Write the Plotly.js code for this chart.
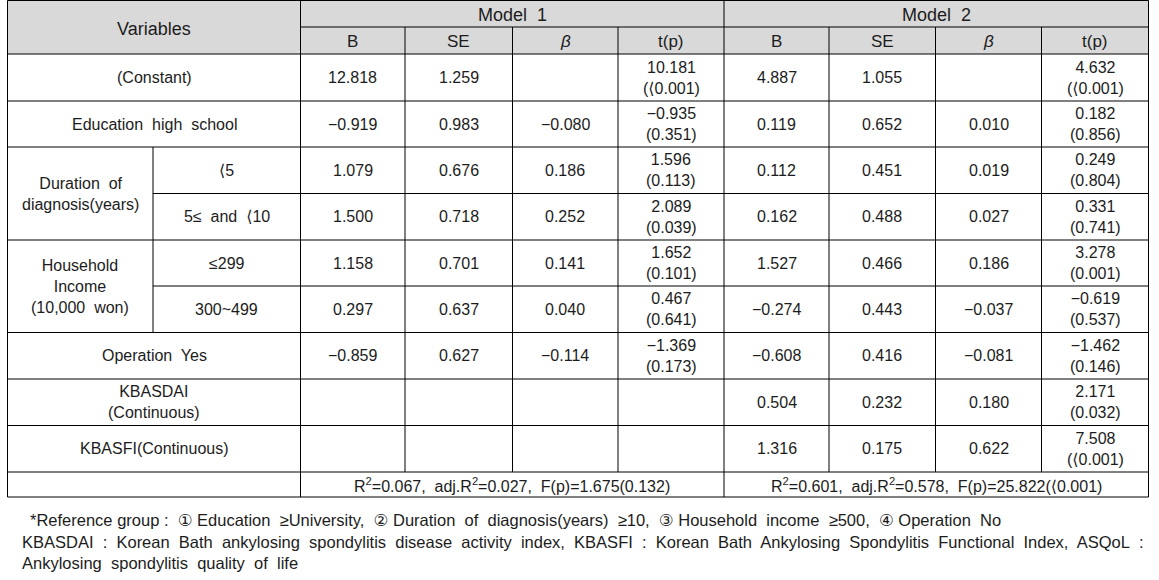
<!DOCTYPE html>
<html>
<head>
<meta charset="utf-8">
<script src="https://cdn.plot.ly/plotly-3.0.1.min.js"></script>
<style>
  html, body { margin: 0; padding: 0; background: #fff; }
  #tableDiv { width: 1159px; height: 580px; }
</style>
</head>
<body>
<div id="tableDiv"></div>
<script>
// table content
var LT = "\u27e8"; // angle bracket used as "less than" in the source table
var varLabels = ["(Constant)", "Education\u00a0 high\u00a0 school", null, null, null, null,
  "Operation\u00a0 Yes", "KBASDAI<br>(Continuous)", "KBASFI(Continuous)"];
var subLabels = [null, null, LT + "5", "5\u2264\u00a0 and\u00a0 " + LT + "10", "\u2264299", "300~499", null, null, null];
var groupLabels = ["Duration\u00a0 of<br>diagnosis(years)", "Household<br>Income<br>(10,000\u00a0 won)"];
var groupStart = [2, 4];

var subHeaders = ["B", "SE", "<i>\u03b2</i>", "t(p)"];
var modelNames = ["Model\u00a0 1", "Model\u00a0 2"];

var m1B = ["12.818", "\u22120.919", "1.079", "1.500", "1.158", "0.297", "\u22120.859", "", ""];
var m1SE = ["1.259", "0.983", "0.676", "0.718", "0.701", "0.637", "0.627", "", ""];
var m1Beta = ["", "\u22120.080", "0.186", "0.252", "0.141", "0.040", "\u22120.114", "", ""];
var m1T = ["10.181", "\u22120.935", "1.596", "2.089", "1.652", "0.467", "\u22121.369", "", ""];
var m1P = [LT + "0.001", "0.351", "0.113", "0.039", "0.101", "0.641", "0.173", "", ""];

var m2B = ["4.887", "0.119", "0.112", "0.162", "1.527", "\u22120.274", "\u22120.608", "0.504", "1.316"];
var m2SE = ["1.055", "0.652", "0.451", "0.488", "0.466", "0.443", "0.416", "0.232", "0.175"];
var m2Beta = ["", "0.010", "0.019", "0.027", "0.186", "\u22120.037", "\u22120.081", "0.180", "0.622"];
var m2T = ["4.632", "0.182", "0.249", "0.331", "3.278", "\u22120.619", "\u22121.462", "2.171", "7.508"];
var m2P = [LT + "0.001", "0.856", "0.804", "0.741", "0.001", "0.537", "0.146", "0.032", LT + "0.001"];

var fitStats = [
  "R<sup>2</sup>=0.067,\u00a0 adj.R<sup>2</sup>=0.027,\u00a0 F(p)=1.675(0.132)",
  "R<sup>2</sup>=0.601,\u00a0 adj.R<sup>2</sup>=0.578,\u00a0 F(p)=25.822(" + LT + "0.001)"
];

var footnotes = [
  "*Reference group\u00a0:\u00a0 \u2460 Education\u00a0 \u2265University,\u00a0 \u2461 Duration\u00a0 of\u00a0 diagnosis(years)\u00a0 \u226510,\u00a0 \u2462 Household\u00a0 income\u00a0 \u2265500,\u00a0 \u2463 Operation\u00a0 No",
  "KBASDAI\u00a0 :\u00a0 Korean\u00a0 Bath\u00a0 ankylosing\u00a0 spondylitis\u00a0 disease\u00a0 activity\u00a0 index,\u00a0 KBASFI\u00a0 :\u00a0 Korean\u00a0 Bath\u00a0 Ankylosing\u00a0 Spondylitis\u00a0 Functional\u00a0 Index,\u00a0 ASQoL\u00a0 :",
  "Ankylosing\u00a0 spondylitis\u00a0 quality\u00a0 of\u00a0 life"
];

// grid geometry (pixels, y grows downward)
var colEdges = [7.5, 153, 300.5, 405, 512.5, 618, 724, 829, 935.5, 1041.5, 1148.5];
var headEdges = [0.5, 27, 54];
var rowEdges = [54, 101, 147, 193.5, 240, 286, 332.5, 379, 425.5, 472, 497];
var footX = [28, 20, 20];
var footY = [520, 542, 563];

var textColor = "#1c1c1c";
var family = "Liberation Sans, Arial, DejaVu Sans, sans-serif";
var font = { family: family, size: 16, color: textColor };
var topFont = { family: family, size: 18, color: textColor };
var subFont = { family: family, size: 17, color: textColor };
var footFont = { family: family, size: 16.5, color: textColor };

function mid(a, b) { return (a + b) / 2; }

var annotations = [];
function addText(x, y, text, f) {
  annotations.push({
    x: x, y: y, xref: "x", yref: "y", text: text, showarrow: false,
    xanchor: "center", yanchor: "middle", align: "center", font: f || font
  });
}

// header
addText(mid(colEdges[0], colEdges[2]), mid(headEdges[0], headEdges[2]) + 2, "Variables", topFont);
modelNames.forEach(function (m, k) {
  addText(mid(colEdges[2 + 4 * k], colEdges[6 + 4 * k]), mid(headEdges[0], headEdges[1]) + 1, m, topFont);
  subHeaders.forEach(function (h, j) {
    addText(mid(colEdges[2 + 4 * k + j], colEdges[3 + 4 * k + j]), mid(headEdges[1], headEdges[2]) + 1, h, subFont);
  });
});

// row labels
varLabels.forEach(function (lab, i) {
  if (lab) addText(mid(colEdges[0], colEdges[2]), mid(rowEdges[i], rowEdges[i + 1]), lab);
});
subLabels.forEach(function (lab, i) {
  if (lab) addText(mid(colEdges[1], colEdges[2]), mid(rowEdges[i], rowEdges[i + 1]), lab);
});
groupLabels.forEach(function (lab, g) {
  var r = groupStart[g];
  addText(mid(colEdges[0], colEdges[1]), mid(rowEdges[r], rowEdges[r + 2]), lab);
});

// values
var models = [[m1B, m1SE, m1Beta, m1T, m1P], [m2B, m2SE, m2Beta, m2T, m2P]];
models.forEach(function (cols, k) {
  for (var i = 0; i < varLabels.length; i++) {
    var y = mid(rowEdges[i], rowEdges[i + 1]);
    for (var j = 0; j < 3; j++) {
      if (cols[j][i]) addText(mid(colEdges[2 + 4 * k + j], colEdges[3 + 4 * k + j]), y, cols[j][i]);
    }
    if (cols[3][i]) {
      addText(mid(colEdges[5 + 4 * k], colEdges[6 + 4 * k]), y, cols[3][i] + "<br>(" + cols[4][i] + ")");
    }
  }
  addText(mid(colEdges[2 + 4 * k], colEdges[6 + 4 * k]), mid(rowEdges[9], rowEdges[10]), fitStats[k]);
});

// footnotes
footnotes.forEach(function (t, i) {
  annotations.push({
    x: footX[i], y: footY[i], xref: "x", yref: "y", text: t, showarrow: false,
    xanchor: "left", yanchor: "middle", align: "left", font: footFont
  });
});

// grid lines
var shapes = [];
function line(x0, y0, x1, y1) {
  shapes.push({ type: "line", xref: "x", yref: "y", x0: x0, y0: y0, x1: x1, y1: y1,
    line: { color: "#000", width: 1 } });
}
shapes.push({ type: "rect", xref: "x", yref: "y", x0: colEdges[0], x1: colEdges[10],
  y0: headEdges[0], y1: headEdges[2], fillcolor: "#d9d9d9", line: { width: 0 }, layer: "below" });

var last = colEdges.length - 1;
var bottom = rowEdges[rowEdges.length - 1];
line(colEdges[0], headEdges[0], colEdges[last], headEdges[0]);
line(colEdges[2], headEdges[1], colEdges[last], headEdges[1]);
rowEdges.forEach(function (y, i) {
  var inner = (i === groupStart[0] + 1) || (i === groupStart[1] + 1);
  line(inner ? colEdges[1] : colEdges[0], y, colEdges[last], y);
});
// verticals
[0, 2, 6, last].forEach(function (c) { line(colEdges[c], headEdges[0], colEdges[c], bottom); });
[3, 4, 5, 7, 8, 9].forEach(function (c) { line(colEdges[c], headEdges[1], colEdges[c], rowEdges[9]); });
line(colEdges[1], rowEdges[groupStart[0]], colEdges[1], rowEdges[groupStart[1] + 2]);

var layout = {
  width: 1159, height: 580,
  margin: { l: 0, r: 0, t: 0, b: 0 },
  paper_bgcolor: "#fff", plot_bgcolor: "#fff",
  xaxis: { range: [0, 1159], visible: false, fixedrange: true },
  yaxis: { range: [580, 0], visible: false, fixedrange: true },
  showlegend: false,
  annotations: annotations,
  shapes: shapes
};

Plotly.newPlot("tableDiv", [], layout, { staticPlot: true, displayModeBar: false });
</script>
</body>
</html>
